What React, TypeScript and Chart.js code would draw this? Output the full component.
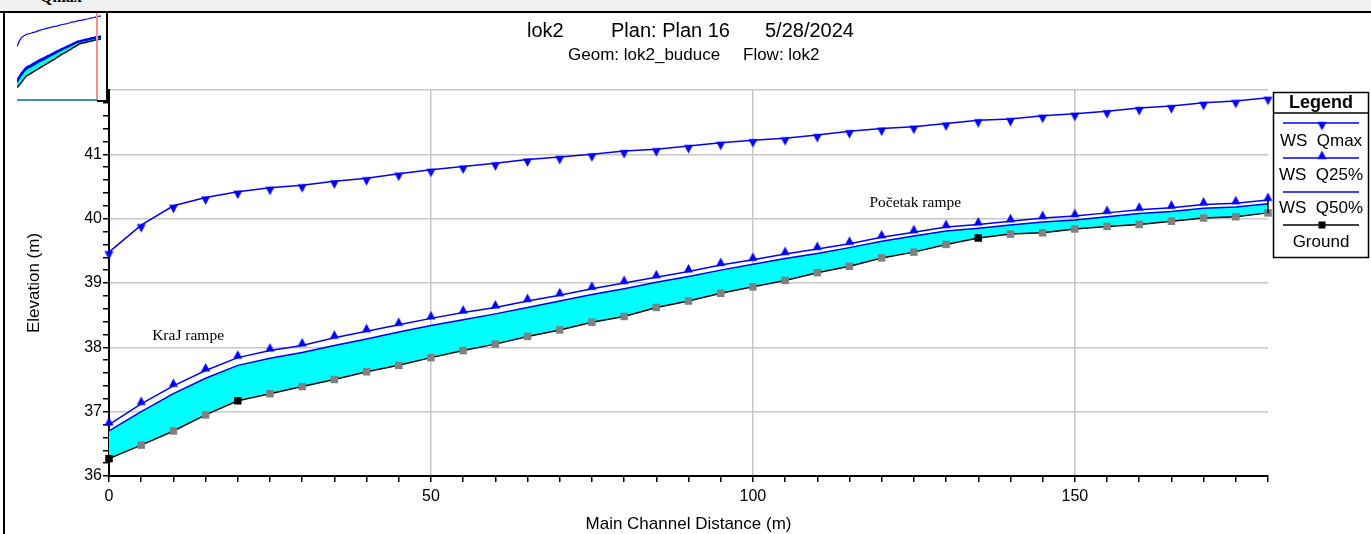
import React, { useEffect, useRef } from 'react';
import { Chart, registerables } from 'chart.js';

Chart.register(...registerables);

// ---------------- data ----------------
const distances = [0, 5, 10, 15, 20, 25, 30, 35, 40, 45, 50, 55, 60, 65, 70, 75, 80, 85, 90, 95, 100, 105, 110, 115, 120, 125, 130, 135, 140, 145, 150, 155, 160, 165, 170, 175, 180];

const wsQmax = [39.48, 39.90, 40.20, 40.33, 40.42, 40.48, 40.52, 40.58, 40.63, 40.70, 40.76, 40.81, 40.86, 40.92, 40.96, 41.00, 41.05, 41.08, 41.13, 41.18, 41.22, 41.25, 41.30, 41.36, 41.40, 41.43, 41.48, 41.53, 41.55, 41.60, 41.63, 41.67, 41.72, 41.75, 41.80, 41.83, 41.88];

const wsQ25 = [36.80, 37.12, 37.40, 37.64, 37.84, 37.95, 38.03, 38.15, 38.25, 38.35, 38.45, 38.54, 38.62, 38.72, 38.81, 38.91, 39.00, 39.09, 39.18, 39.28, 39.36, 39.45, 39.53, 39.61, 39.71, 39.79, 39.87, 39.91, 39.96, 40.01, 40.04, 40.09, 40.14, 40.17, 40.22, 40.24, 40.29];

const wsQ50 = [36.70, 37.00, 37.28, 37.52, 37.72, 37.83, 37.92, 38.03, 38.13, 38.24, 38.34, 38.43, 38.52, 38.62, 38.72, 38.82, 38.91, 39.01, 39.10, 39.20, 39.29, 39.38, 39.46, 39.55, 39.65, 39.73, 39.81, 39.85, 39.90, 39.95, 39.98, 40.03, 40.08, 40.11, 40.16, 40.18, 40.23];

const ground = [36.27, 36.48, 36.70, 36.95, 37.17, 37.28, 37.39, 37.50, 37.62, 37.72, 37.84, 37.95, 38.05, 38.17, 38.27, 38.39, 38.48, 38.62, 38.72, 38.84, 38.94, 39.04, 39.16, 39.26, 39.39, 39.48, 39.60, 39.70, 39.76, 39.78, 39.84, 39.88, 39.91, 39.96, 40.01, 40.03, 40.09];

// ground points drawn black (named cross sections)
const groundBlackIdx = [0, 4, 27];

const seriesLabels = ['WS  Qmax', 'WS  Q25%', 'WS  Q50%', 'Ground'];
const xMajorStep = 50;
const yRange = [36, 42];
const xRange = [0, 180];

const titleParts = ['lok2', 'Plan: Plan 16', '5/28/2024'];
const subtitleParts = ['Geom: lok2_buduce', 'Flow: lok2'];
const xTitle = 'Main Channel Distance (m)';
const yTitle = 'Elevation (m)';
const legendTitle = 'Legend';
const annotationTexts = ['KraJ rampe', 'Početak rampe'];
const annotationX = [6.7, 118.1];
const annotationY = [38.17, 40.25];
const windowCaption = 'Qmax';

const SANS = '"Liberation Sans", Arial, sans-serif';
const SERIF = '"Liberation Serif", "Times New Roman", serif';
const BLUE = '#0000ff';
const CYAN = '#00ffff';

function makeTri(up: boolean, color: string) {
  const c = document.createElement('canvas');
  c.width = 11;
  c.height = 19;
  const g = c.getContext('2d')!;
  g.fillStyle = color;
  g.beginPath();
  if (up) {
    g.moveTo(5.5, 2);
    g.lineTo(10, 10.5);
    g.lineTo(1, 10.5);
  } else {
    g.moveTo(1, 8.5);
    g.lineTo(10, 8.5);
    g.lineTo(5.5, 17);
  }
  g.closePath();
  g.fill();
  return c;
}

const pts = (ys: number[]) => distances.map((x, i) => ({ x, y: ys[i] }));
const isInt = (v: number) => Math.abs(v - Math.round(v)) < 1e-6;

export default function App() {
  const mainRef = useRef<HTMLCanvasElement | null>(null);
  const insetRef = useRef<HTMLCanvasElement | null>(null);

  useEffect(() => {
    document.body.style.margin = '0';
    const downImg = makeTri(false, BLUE);
    const upImg = makeTri(true, BLUE);
    const groundColors = ground.map((_, i) => (groundBlackIdx.includes(i) ? '#000000' : '#808080'));

    const overlay = {
      id: 'overlay',
      afterDatasetsDraw(chart: any) {
        const ctx = chart.ctx;
        const xs = chart.scales.x;
        const ys = chart.scales.y;
        const last = distances.length - 1;
        const px = xs.getPixelForValue(distances[last]);
        ctx.save();
        ctx.strokeStyle = '#000';
        ctx.lineWidth = 1.5;
        ctx.beginPath();
        ctx.moveTo(px, ys.getPixelForValue(ground[last]));
        ctx.lineTo(px, ys.getPixelForValue(wsQ25[last]));
        ctx.stroke();
        ctx.restore();
      },
      afterDraw(chart: any) {
        const ctx = chart.ctx;
        const xs = chart.scales.x;
        const ys = chart.scales.y;
        ctx.save();
        // titles
        ctx.fillStyle = '#000';
        ctx.textBaseline = 'middle';
        ctx.textAlign = 'left';
        ctx.font = `20px ${SANS}`;
        const tx = [527, 611, 765];
        titleParts.forEach((t, i) => ctx.fillText(t, tx[i], 31));
        ctx.font = `17px ${SANS}`;
        const sx = [568, 743];
        subtitleParts.forEach((t, i) => ctx.fillText(t, sx[i], 55));
        // annotations
        ctx.font = `15.5px ${SERIF}`;
        annotationTexts.forEach((t, i) => {
          ctx.fillText(t, xs.getPixelForValue(annotationX[i]), ys.getPixelForValue(annotationY[i]));
        });
        // legend
        const L = 1273.5, T = 92.5, W = 95, H = 165;
        ctx.strokeStyle = '#000';
        ctx.lineWidth = 1.5;
        ctx.strokeRect(L, T, W, H);
        ctx.beginPath();
        ctx.moveTo(L, 113);
        ctx.lineTo(L + W, 113);
        ctx.stroke();
        const cx = 1321;
        ctx.textAlign = 'center';
        ctx.font = `bold 18px ${SANS}`;
        ctx.fillText(legendTitle, cx, 103);
        const lineYs = [123, 158, 192, 225];
        const textYs = [141, 175, 208, 242];
        const colors = [BLUE, BLUE, BLUE, '#000'];
        ctx.font = `17px ${SANS}`;
        seriesLabels.forEach((lab, i) => {
          ctx.strokeStyle = colors[i];
          ctx.lineWidth = 1.5;
          ctx.beginPath();
          ctx.moveTo(1283, lineYs[i]);
          ctx.lineTo(1359, lineYs[i]);
          ctx.stroke();
          if (i === 0) ctx.drawImage(downImg, 1322 - 5.5, lineYs[i] - 9.5);
          if (i === 1) ctx.drawImage(upImg, 1322 - 5.5, lineYs[i] - 9.5);
          if (i === 3) {
            ctx.fillStyle = '#000';
            ctx.fillRect(1318.5, lineYs[i] - 3.5, 7, 7);
          }
          ctx.fillStyle = '#000';
          ctx.fillText(lab, cx, textYs[i]);
        });
        ctx.restore();
      },
    };

    const main = new Chart(mainRef.current!, {
      type: 'line',
      data: {
        datasets: [
          {
            label: seriesLabels[0],
            data: pts(wsQmax),
            borderColor: BLUE,
            borderWidth: 1.5,
            pointStyle: downImg as any,
            pointRadius: 5,
            fill: false,
            clip: 8,
          },
          {
            label: seriesLabels[1],
            data: pts(wsQ25),
            borderColor: BLUE,
            borderWidth: 1.5,
            pointStyle: upImg as any,
            pointRadius: 5,
            fill: false,
            clip: 8,
          },
          {
            label: seriesLabels[2],
            data: pts(wsQ50),
            borderColor: BLUE,
            borderWidth: 1.5,
            pointRadius: 0,
            backgroundColor: CYAN,
            fill: '+1',
            clip: 8,
          },
          {
            label: seriesLabels[3],
            data: pts(ground),
            borderColor: '#000',
            borderWidth: 1.5,
            pointStyle: 'rect',
            pointRadius: 5.3,
            pointBorderWidth: 0,
            pointBackgroundColor: groundColors,
            pointBorderColor: groundColors,
            fill: false,
            clip: 8,
          },
        ] as any,
      },
      options: {
        responsive: false,
        animation: false,
        devicePixelRatio: 1,
        layout: { padding: { top: 90, left: 0, right: 103, bottom: 0 } },
        elements: { line: { tension: 0 } },
        plugins: {
          legend: { display: false },
          tooltip: { enabled: false },
          title: { display: false },
          filler: { drawTime: 'beforeDatasetsDraw' },
        },
        scales: {
          x: {
            type: 'linear',
            min: xRange[0],
            max: xRange[1],
            afterFit: (s: any) => { s.height = 58; },
            ticks: {
              stepSize: 5,
              autoSkip: false,
              maxRotation: 0,
              padding: 5,
              color: '#000',
              font: { family: SANS, size: 16 },
              callback: (v: any) => (Number(v) % xMajorStep === 0 ? String(v) : ''),
            },
            grid: {
              color: (c: any) => (c.tick && c.tick.value % xMajorStep === 0 && c.tick.value !== 0 ? '#c8c8c8' : 'rgba(0,0,0,0)'),
              lineWidth: 1.5,
              tickColor: '#000',
              tickLength: 6,
              tickWidth: 1.5,
            },
            border: { color: '#000', width: 2 },
            title: { display: true, text: xTitle, color: '#000', font: { family: SANS, size: 17 }, padding: { top: 0, bottom: -1 } },
          },
          y: {
            type: 'linear',
            min: yRange[0],
            max: yRange[1],
            afterFit: (s: any) => { s.width = 109; },
            ticks: {
              stepSize: 0.2,
              autoSkip: false,
              padding: 1,
              color: '#000',
              font: { family: SANS, size: 16 },
              callback: (v: any) => (isInt(Number(v)) ? String(Math.round(Number(v))) : ''),
            },
            grid: {
              color: (c: any) => (c.tick && isInt(c.tick.value) ? '#c8c8c8' : 'rgba(0,0,0,0)'),
              lineWidth: 1.5,
              tickColor: '#000',
              tickLength: 6,
              tickWidth: 1.5,
            },
            border: { color: '#000', width: 2 },
            title: { display: true, text: yTitle, color: '#000', font: { family: SANS, size: 17 }, padding: { top: 24, bottom: 0 } },
          },
        },
      } as any,
      plugins: [overlay],
    });

    const inset = new Chart(insetRef.current!, {
      type: 'line',
      data: {
        datasets: [
          { data: pts(wsQmax), borderColor: BLUE, borderWidth: 1.2, pointRadius: 0, fill: false },
          { data: pts(wsQ25), borderColor: BLUE, borderWidth: 2, pointRadius: 0, fill: false },
          { data: pts(wsQ50), borderColor: BLUE, borderWidth: 1.5, pointRadius: 0, backgroundColor: CYAN, fill: '+1' },
          { data: pts(ground), borderColor: '#000', borderWidth: 1.5, pointRadius: 0, fill: false },
        ] as any,
      },
      options: {
        responsive: false,
        animation: false,
        devicePixelRatio: 1,
        layout: { padding: 0 },
        plugins: { legend: { display: false }, tooltip: { enabled: false }, filler: { drawTime: 'beforeDatasetsDraw' } },
        scales: {
          x: { type: 'linear', min: xRange[0], max: xRange[1], display: false },
          y: { type: 'linear', min: 35.3, max: 42.1, display: false },
        },
      } as any,
    });

    return () => {
      main.destroy();
      inset.destroy();
    };
  }, []);

  return (
    <div style={{ position: 'fixed', left: 0, top: 0, width: 1371, height: 534, background: '#fff', overflow: 'hidden' }}>
      <canvas ref={mainRef} width={1371} height={534} style={{ position: 'absolute', left: 0, top: 0, width: 1371, height: 534 }} />
      {/* window caption strip */}
      <div style={{ position: 'absolute', left: 0, top: 0, width: 1371, height: 11, background: '#f0f0f0', overflow: 'hidden' }}>
        <span style={{ position: 'absolute', left: 40, top: -12, font: `bold 16px ${SERIF}`, color: '#000', whiteSpace: 'pre' }}>{windowCaption}</span>
      </div>
      <div style={{ position: 'absolute', left: 0, top: 11, width: 1371, height: 2, background: '#000' }} />
      <div style={{ position: 'absolute', left: 3, top: 11, width: 2, height: 523, background: '#000' }} />
      {/* overview inset */}
      <div style={{ position: 'absolute', left: 17, top: 13, width: 89, height: 88, background: '#fff', borderRight: '2px solid #000' }}>
        <canvas ref={insetRef} width={84} height={87} style={{ position: 'absolute', left: 0, top: 0, width: 84, height: 87 }} />
        <div style={{ position: 'absolute', left: 79, top: 0, width: 1.5, height: 87, background: '#f29090' }} />
        <div style={{ position: 'absolute', left: 0, top: 86, width: 80, height: 2, background: '#3a9a9a' }} />
      </div>
      <div style={{ position: 'absolute', left: 97, top: 100, width: 12, height: 2, background: '#000' }} />
    </div>
  );
}
